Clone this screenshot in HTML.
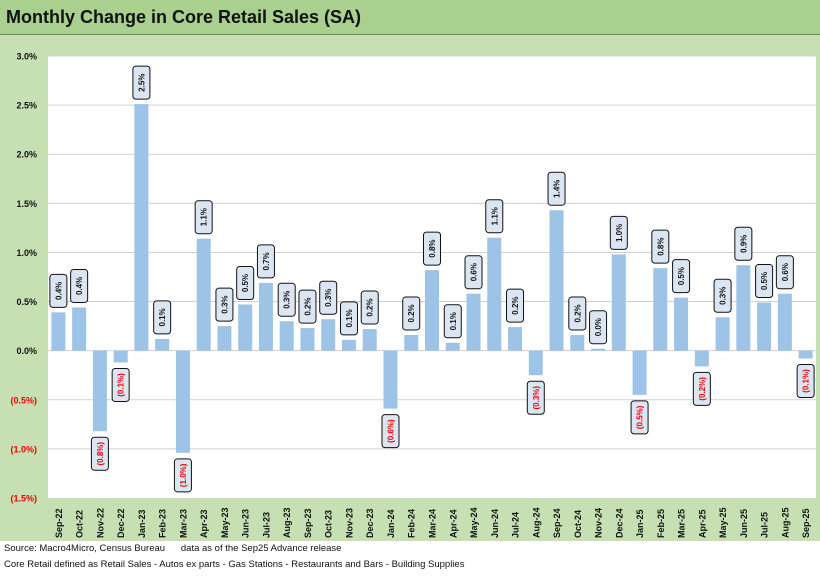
<!DOCTYPE html>
<html><head><meta charset="utf-8"><style>
body{margin:0;width:820px;height:578px;overflow:hidden;background:#fff;font-family:"Liberation Sans",sans-serif}
#title{position:absolute;left:0;top:0;width:820px;height:34px;background:#a9d08e;border-bottom:1px solid #6a8f55}
#title span{position:absolute;left:6px;top:7px;font-size:18px;font-weight:bold;color:#111}
#bg{position:absolute;left:0;top:35px;width:820px;height:506px;background:#c6e0b4}
.foot{position:absolute;left:4px;font-size:9.5px;color:#111}
</style></head><body>
<div id="title"><span>Monthly Change in Core Retail Sales (SA)</span></div>
<div id="bg"></div>
<svg id="chart" width="820" height="578" style="position:absolute;left:0;top:0"></svg>
<div class="foot" style="top:543px">Source: Macro4Micro, Census Bureau &nbsp;&nbsp;&nbsp;&nbsp;&nbsp;data as of the Sep25 Advance release</div>
<div class="foot" style="top:559px">Core Retail defined as Retail Sales - Autos ex parts - Gas Stations - Restaurants and Bars - Building Supplies</div>
<script>
const categories=["Sep-22","Oct-22","Nov-22","Dec-22","Jan-23","Feb-23","Mar-23","Apr-23","May-23","Jun-23","Jul-23","Aug-23","Sep-23","Oct-23","Nov-23","Dec-23","Jan-24","Feb-24","Mar-24","Apr-24","May-24","Jun-24","Jul-24","Aug-24","Sep-24","Oct-24","Nov-24","Dec-24","Jan-25","Feb-25","Mar-25","Apr-25","May-25","Jun-25","Jul-25","Aug-25","Sep-25"];
const values=[0.39,0.44,-0.82,-0.12,2.51,0.12,-1.04,1.14,0.25,0.47,0.69,0.30,0.23,0.32,0.11,0.22,-0.59,0.16,0.82,0.08,0.58,1.15,0.24,-0.25,1.43,0.16,0.02,0.98,-0.45,0.84,0.54,-0.16,0.34,0.87,0.49,0.58,-0.08];
const yTicks=[3.0,2.5,2.0,1.5,1.0,0.5,0.0,-0.5,-1.0,-1.5];
const NS="http://www.w3.org/2000/svg";
const svg=document.getElementById('chart');
const L=48,R=816,T=56,B=498,ymin=-1.5,ymax=3.0;
const y=v=>T+(ymax-v)/(ymax-ymin)*(B-T);
const step=(R-L)/categories.length;
const x=i=>L+step*(i+0.5);
function mk(t,a,p){const e=document.createElementNS(NS,t);for(const k in a)e.setAttribute(k,a[k]);(p||svg).appendChild(e);return e;}
const plot=mk('rect',{x:L,y:T,width:R-L,height:B-T,fill:'#fff'});


const fmt=v=>{const s=Math.abs(v).toFixed(1)+'%';return v<0?'('+s+')':s;};
yTicks.forEach(t=>{
  if(t>ymin){const g=mk('line',{x1:L,x2:R,y1:y(t),y2:y(t),stroke:'#d0d0d0','stroke-width':1});
  
  }
  const tx=mk('text',{x:37,y:y(t)+3.5,'text-anchor':'end','font-size':9,'font-weight':'bold',fill:t<0?'#e00':'#111'});
  tx.textContent=fmt(t);
  
  
});
categories.forEach((c,i)=>{
  const v=values[i],cx=x(i),bw=14;
  const b=mk('rect',{x:cx-bw/2,y:Math.min(y(v),y(0)),width:bw,height:Math.abs(y(v)-y(0)),fill:'#9dc3e6'});
  
  
  const lt=mk('text',{transform:`translate(${cx+3.5},${B+40}) rotate(-90)`,'font-size':9,'font-weight':'bold',fill:'#111'});
  lt.textContent=c;
  
  
  const h=33,w=17;
  const by=v>=0?y(v)-5-h:y(v)+6;
  const box=mk('rect',{x:cx-w/2,y:by,width:w,height:h,rx:3,fill:'#dce6f2',stroke:'#111','stroke-width':1});
  
  
  const dt=mk('text',{transform:`translate(${cx+3},${by+h/2}) rotate(-90)`,'text-anchor':'middle','font-size':8,'font-weight':'bold',fill:v<0?'#e00':'#111'});
  dt.textContent=fmt(v);
  
  
});
</script>
</body></html>
